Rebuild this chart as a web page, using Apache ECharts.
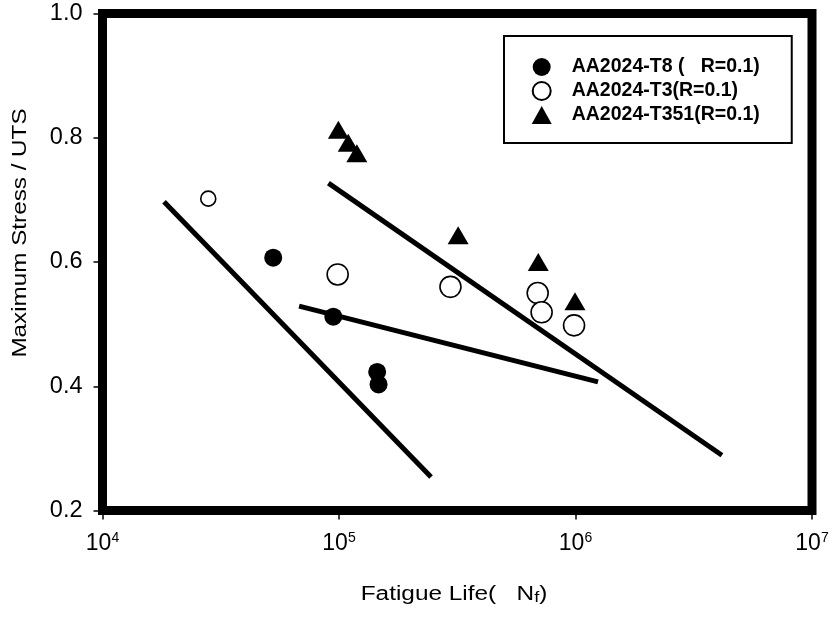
<!DOCTYPE html>
<html>
<head>
<meta charset="utf-8">
<script src="https://cdn.jsdelivr.net/npm/echarts@6/dist/echarts.min.js"></script>
<style>
  html, body { margin: 0; padding: 0; background: #fff; }
  #chart { width: 834px; height: 617px; }
</style>
</head>
<body>
<div id="chart"></div>
<script>
// ---- data ----
const xExponents = [4, 5, 6, 7];                 // x tick labels: 10^n
const yTickLabels = ['0.2', '0.4', '0.6', '0.8', '1.0'];

const seriesNames = ['AA2024-T8 (   R=0.1)', 'AA2024-T3(R=0.1)', 'AA2024-T351(R=0.1)'];

const t8Life   = [52700, 94600, 145000, 147000];
const t8Stress = [0.607, 0.512, 0.423, 0.403];

const t3Life   = [28000, 98700, 296000, 692000, 719000, 986000];
const t3Stress = [0.702, 0.580, 0.560, 0.550, 0.519, 0.498];

const t351Life   = [99400, 109400, 119000, 319000, 696000, 995000];
const t351Stress = [0.813, 0.792, 0.775, 0.643, 0.600, 0.537];

const fit1Life = [18200, 245000];   const fit1Stress = [0.697, 0.254];
const fit2Life = [67800, 1245000];  const fit2Stress = [0.529, 0.407];
const fit3Life = [90200, 4160000];  const fit3Stress = [0.727, 0.289];

const xTitle = 'Fatigue Life(   N';
const xTitleSub = 'f';
const yTitle = 'Maximum Stress / UTS';

// ---- build ----
const zip = (a, b) => a.map((v, i) => [v, b[i]]);
const FONT = "'Liberation Sans', Arial, sans-serif";

const chart = echarts.init(document.getElementById('chart'), null, { renderer: 'canvas' });

const fitLine = (name, life, stress) => ({
  name: name,
  type: 'line',
  data: zip(life, stress),
  symbol: 'none',
  lineStyle: { color: '#000', width: 5, cap: 'butt' },
  silent: true,
  z: 2
});

const option = {
  backgroundColor: '#fff',
  animation: false,
  grid: {
    left: 102.5, right: 22, top: 13.5, bottom: 106.5,
    show: true, borderColor: '#000', borderWidth: 9, backgroundColor: 'transparent'
  },
  xAxis: {
    type: 'log', logBase: 10, min: 1e4, max: 1e7,
    axisLine: { show: false },
    axisTick: { show: true, length: 9, lineStyle: { color: '#000', width: 1.5 } },
    splitLine: { show: false },
    minorTick: { show: false },
    axisLabel: {
      margin: 21,
      color: '#000',
      fontFamily: FONT,
      formatter: function (v) {
        const e = Math.round(Math.log10(v));
        const idx = xExponents.indexOf(e);
        return idx >= 0 ? '{b|10}{s|' + xExponents[idx] + '}' : '';
      },
      rich: {
        b: { fontSize: 23, fontFamily: FONT, color: '#000', lineHeight: 24, verticalAlign: 'bottom' },
        s: { fontSize: 14, fontFamily: FONT, color: '#000', lineHeight: 14, verticalAlign: 'top' }
      }
    }
  },
  yAxis: {
    type: 'value', min: 0.2, max: 1.0, interval: 0.2,
    axisLine: { show: false },
    axisTick: { show: true, length: 9, lineStyle: { color: '#000', width: 1.5 } },
    splitLine: { show: false },
    axisLabel: {
      margin: 20,
      color: '#000',
      fontSize: 23.5,
      fontFamily: FONT,
      formatter: function (v) {
        const idx = Math.round((v - 0.2) / 0.2);
        return yTickLabels[idx] !== undefined ? yTickLabels[idx] : '';
      }
    }
  },
  legend: {
    data: seriesNames,
    orient: 'vertical',
    left: 504, top: 36,
    padding: [21, 32, 18, 27.7],
    itemWidth: 20, itemHeight: 18, itemGap: 4,
    borderColor: '#000', borderWidth: 2,
    backgroundColor: '#fff',
    selectedMode: false,
    textStyle: { fontFamily: FONT, fontSize: 19.5, fontWeight: 'bold', color: '#000', padding: [0, 0, 0, 15] }
  },
  graphic: [
    {
      type: 'text', x: 21, y: 233, rotation: Math.PI / 2, scaleX: 1.25, z: 10,
      style: {
        text: yTitle, fill: '#000', fontSize: 19.4, fontFamily: FONT,
        align: 'center', verticalAlign: 'middle', textAlign: 'center', textVerticalAlign: 'middle'
      }
    },
    {
      type: 'text', x: 454, y: 595, scaleX: 1.25, z: 10,
      style: {
        text: '{a|' + xTitle + '}{sub|' + xTitleSub + '}{a|)}',
        fill: '#000', fontSize: 19.5, fontFamily: FONT,
        align: 'center', verticalAlign: 'middle', textAlign: 'center', textVerticalAlign: 'middle',
        rich: {
          a: { fontSize: 19.5, fontFamily: FONT, fill: '#000', lineHeight: 21, verticalAlign: 'top' },
          sub: { fontSize: 14.5, fontFamily: FONT, fill: '#000', lineHeight: 13, verticalAlign: 'bottom', padding: [8, 0, 0, 0] }
        }
      }
    }
  ],
  series: [
    fitLine('fit1', fit1Life, fit1Stress),
    fitLine('fit2', fit2Life, fit2Stress),
    fitLine('fit3', fit3Life, fit3Stress),
    {
      name: seriesNames[0], type: 'scatter', data: zip(t8Life, t8Stress),
      symbol: 'circle', symbolSize: 18,
      itemStyle: { color: '#000', borderWidth: 0, opacity: 1 }, z: 5
    },
    {
      name: seriesNames[1], type: 'scatter', data: zip(t3Life, t3Stress),
      symbol: 'circle',
      symbolSize: function (val, params) { return params.dataIndex === 0 ? 15 : 21; },
      itemStyle: { color: '#fff', borderColor: '#000', borderWidth: 1.6, opacity: 1 }, z: 5
    },
    {
      name: seriesNames[2], type: 'scatter', data: zip(t351Life, t351Stress),
      symbol: 'triangle', symbolSize: [21, 18],
      itemStyle: { color: '#000', borderWidth: 0, opacity: 1 }, z: 5
    }
  ]
};

chart.setOption(option);
</script>
</body>
</html>
